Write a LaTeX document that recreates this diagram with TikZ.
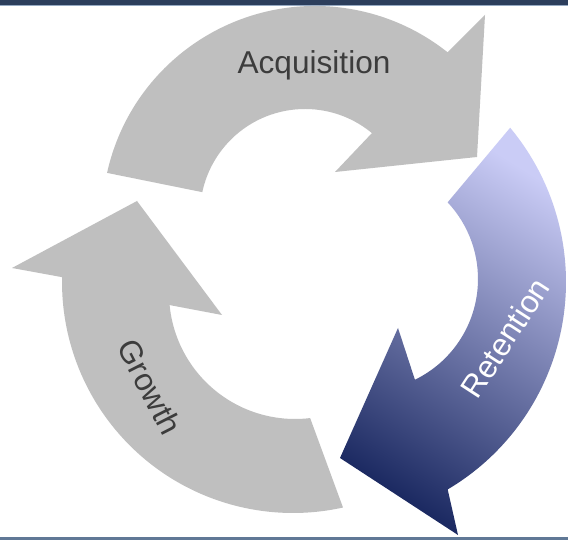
\documentclass[tikz,border=0pt]{standalone}
\usepackage{fontspec}
\setmainfont{Liberation Sans}
\usetikzlibrary{positioning}

\definecolor{cyclegray}{RGB}{191,191,191}
\definecolor{labelgray}{RGB}{60,60,60}
\definecolor{retlight}{RGB}{202,204,246}
\definecolor{retdark}{RGB}{28,42,98}
\definecolor{frametop}{RGB}{44,62,92}
\definecolor{frameline}{RGB}{150,170,195}
\definecolor{framebot}{RGB}{96,120,150}

\begin{document}
\begin{tikzpicture}[
    x=0.02cm, y=0.02cm,
    grayarrow/.style={fill=cyclegray, draw=none},
    bluearrow/.style={draw=none, top color=retlight, bottom color=retdark, shading angle=-32},
    cyclelabel/.style={font=\fontsize{18}{22}\selectfont, text=labelgray, inner sep=0pt}
]
\useasboundingbox (0,0) rectangle (568,540);
\fill[white] (0,0) rectangle (568,540);
\fill[frametop] (0,535) rectangle (568,540);
\fill[frameline] (0,534) rectangle (568,535);
\fill[framebot] (0,0) rectangle (568,3);

% acquisition (top)
\path[grayarrow] ([shift={(315,321)}]167.5:213) arc[start angle=167.5, end angle=51.5, radius=213]
    -- (485,525) -- (477,383) -- (335,368)
    -- ([shift={(305,326)}]50.4:105) arc[start angle=50.4, end angle=168, radius=105] -- cycle;

% retention (right)
\path[bluearrow] ([shift={(325,258)}]39.8:241) arc[start angle=39.8, end angle=-59.4, radius=241]
    -- (458,5) -- (340,82) -- (398,212)
    -- ([shift={(366,261)}]-64.1:112) arc[start angle=-64.1, end angle=43.2, radius=112] -- cycle;

% growth (left)
\path[grayarrow] ([shift={(293,258)}]-77.5:231) arc[start angle=-77.5, end angle=-181.2, radius=231]
    -- (12,272) -- (137,339) -- (222,225)
    -- ([shift={(295,247)}]-174.5:126) arc[start angle=-174.5, end angle=-83.1, radius=126] -- cycle;

\node[cyclelabel] (acq) at (314,475) {Acquisition};
\node[cyclelabel, text=white, rotate=57] (ret) at (505,202) {Retention};
\node[cyclelabel, rotate=-63] (grow) at (150,153) {Growth};
\end{tikzpicture}
\end{document}
